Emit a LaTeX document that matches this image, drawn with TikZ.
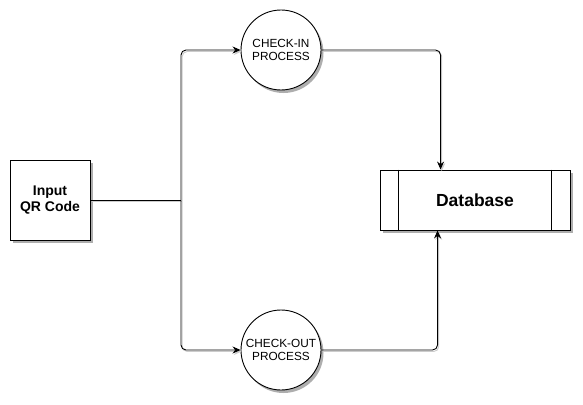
\documentclass[tikz,border=0pt]{standalone}
\usepackage{fontspec}
\setmainfont{Liberation Sans}
\usetikzlibrary{arrows.meta,shadows}

\tikzset{
  shade/.style={drop shadow={shadow xshift=2.5pt,shadow yshift=-3pt,fill=black!45,opacity=0.7}},
  box/.style={draw, fill=white, line width=0.9pt, shade, align=center, inner sep=0pt},
  proc/.style={circle, draw, fill=white, line width=0.9pt, shade, align=center,
    inner sep=0pt, minimum size=80pt, font=\fontsize{11.8}{13}\selectfont},
  flow/.style={line width=0.9pt, rounded corners=5pt,
    preaction={draw=black!20, line width=0.9pt, transform canvas={shift={(1.2pt,-1.5pt)}}}},
}

\begin{document}
\begin{tikzpicture}[x=1pt, y=-1pt]
    \useasboundingbox (0,0) rectangle (583,404);

    \node[box, minimum width=80pt, minimum height=80pt,
      font=\bfseries\fontsize{14}{16}\selectfont] (input) at (50,200) {Input\\QR Code};

    \node[proc] (checkin) at (281,50) {CHECK-IN\\PROCESS};
    \node[proc] (checkout) at (281,350) {CHECK-OUT\\PROCESS};

    \node[box, minimum width=190pt, minimum height=60pt,
      font=\bfseries\fontsize{17.5}{20}\selectfont] (db) at (475,200) {Database};
    \draw[line width=0.9pt] ([xshift=19pt]db.north west) -- ([xshift=19pt]db.south west);
    \draw[line width=0.9pt] ([xshift=-19pt]db.north east) -- ([xshift=-19pt]db.south east);

    \coordinate (split) at (181,200);

    \draw[flow] (input.east) -- (split);
    \draw[flow, -{Stealth[length=8pt,width=7pt]}] (split) |- (checkin.west);
    \draw[flow, -{Stealth[length=8pt,width=7pt]}] (split) |- (checkout.west);

    \draw[flow, -{Stealth[length=8pt,width=7pt]}] (checkin.east) -| ([xshift=61pt]db.north west);
    \draw[flow, -{Stealth[length=8pt,width=7pt]}] (checkout.east) -| ([xshift=58pt]db.south west);

  \end{tikzpicture}
\end{document}
